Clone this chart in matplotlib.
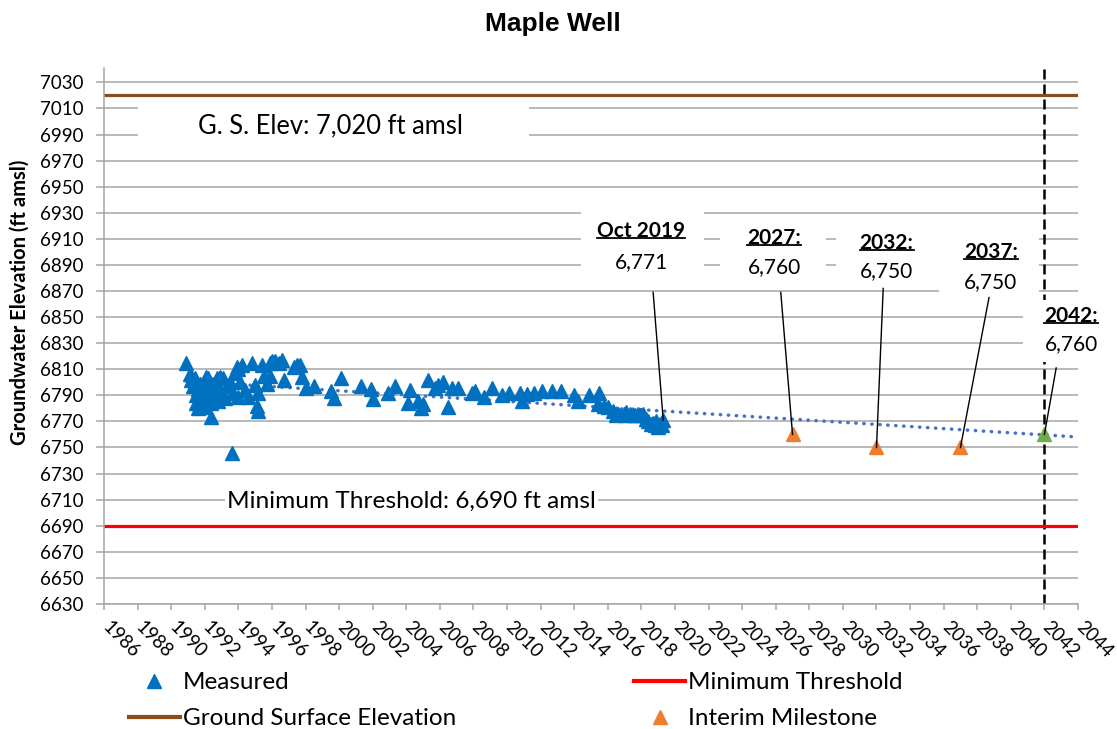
import matplotlib
matplotlib.use('Agg')
import matplotlib.pyplot as plt
import numpy as np
from matplotlib.lines import Line2D
from matplotlib.patches import Rectangle
from matplotlib.transforms import ScaledTranslation

plt.rcParams['font.family'] = ['Lato', 'DejaVu Sans']

# measured groundwater elevations (decimal year, ft amsl)
meas_year = [1990.9, 1991.1, 1991.2, 1991.3, 1991.4, 1991.4, 1991.5, 1991.5, 1991.6, 1991.6,
             1991.7, 1991.8, 1991.9, 1992.0, 1992.0, 1992.1, 1992.2, 1992.2, 1992.3, 1992.4,
             1992.4, 1992.5, 1992.6, 1992.7, 1992.8, 1992.9, 1992.9, 1993.0, 1993.1, 1993.2,
             1993.4, 1993.5, 1993.6, 1993.7, 1993.8, 1993.9, 1994.0, 1994.0, 1994.1, 1994.2,
             1994.4, 1994.6, 1994.8, 1995.0, 1995.1, 1995.2, 1995.2,
             1995.4, 1995.5, 1995.7, 1995.9, 1995.9, 1996.0, 1996.2, 1996.4, 1996.6,
             1996.7, 1997.3, 1997.5, 1997.7, 1997.8, 1998.0, 1998.5, 1999.5,
             1999.7, 2000.1, 2001.3, 2001.9, 2002.0, 2002.9, 2003.3, 2004.1, 2004.2, 2004.7,
             2004.9, 2005.0, 2005.3, 2005.7, 2005.9, 2006.2, 2006.5, 2006.7, 2007.1, 2007.9,
             2008.1, 2008.6, 2009.1, 2009.7, 2010.1, 2010.8, 2010.9, 2011.2, 2011.6, 2012.1,
             2012.7, 2013.2, 2014.0, 2014.2, 2014.9, 2015.4, 2015.5, 2015.8, 2016.0, 2016.3,
             2016.5, 2016.6, 2016.8, 2017.0, 2017.1, 2017.3, 2017.5, 2017.6, 2017.8, 2018.0,
             2018.1, 2018.3, 2018.4, 2018.6, 2018.7, 2018.8, 2018.9, 2019.0, 2019.1, 2019.2,
             2019.3]
meas_elev = [6815, 6806, 6802, 6797, 6803, 6800, 6790, 6784, 6780, 6795,
             6799, 6786, 6791, 6781, 6797, 6804, 6788, 6803, 6793, 6773,
             6784, 6799, 6790, 6803, 6786, 6795, 6804, 6792, 6803, 6788,
             6797, 6800, 6746, 6792, 6807, 6812, 6789, 6810, 6800, 6813,
             6794, 6789, 6815, 6798, 6782, 6778, 6792,
             6813, 6805, 6799, 6815, 6805, 6816, 6816, 6815, 6817,
             6802, 6812, 6813, 6813, 6804, 6796, 6797, 6793,
             6788, 6803, 6797, 6795, 6787, 6792, 6797, 6784, 6794, 6786,
             6780, 6783, 6802, 6796, 6798, 6800, 6781, 6796, 6796, 6792,
             6793, 6789, 6796, 6790, 6792, 6792, 6786, 6791, 6792, 6793,
             6793, 6793, 6790, 6786, 6790, 6783, 6792, 6782, 6781, 6778,
             6775, 6776, 6776, 6775, 6777, 6776, 6775, 6775, 6776, 6775,
             6776, 6772, 6770, 6768, 6769, 6767, 6770, 6766, 6768, 6767,
             6771]

# interim milestones and measurable objective
milestone_year = [2027, 2032, 2037]
milestone_elev = [6760, 6750, 6750]
objective_year = 2042
objective_elev = 6760

gse_elev = 7020
min_threshold = 6690

blue = '#0070C0'
orange = '#ED7D31'
green = '#70AD47'
brown = '#8E4B1C'
grid_c = '#A6A6A6'

fig = plt.figure(figsize=(11.17, 7.29), dpi=100)
ax = fig.add_axes([0.0931, 0.1715, 0.872, 0.7352])

ax.set_xlim(1986, 2044)
ax.set_ylim(6630, 7041)
ax.set_xticks(np.arange(1986, 2045, 2))
ax.set_yticks(np.arange(6630, 7031, 20))
ax.set_axisbelow(True)
ax.grid(axis='y', color=grid_c, lw=1.1)
for s in ['top', 'right']:
    ax.spines[s].set_visible(False)
for s in ['left', 'bottom']:
    ax.spines[s].set_color(grid_c)
    ax.spines[s].set_linewidth(1.1)
ax.tick_params(axis='y', direction='out', length=5.5, width=1.1, color=grid_c,
               labelsize=13.5, pad=9)
ax.tick_params(axis='x', direction='out', length=4.3, width=1.1, color=grid_c,
               labelsize=13.5, pad=6)
for lab in ax.get_xticklabels():
    lab.set_rotation(-45)
    lab.set_ha('left')
    lab.set_va('top')
    lab.set_transform(lab.get_transform() + ScaledTranslation(-5/100, 0, fig.dpi_scale_trans))

ax.set_ylabel('Groundwater Elevation (ft amsl)', fontsize=14.5, fontweight='bold')
ax.yaxis.set_label_coords(-0.076, 0.563)

fig.text(0.495, 0.967, 'Maple Well', ha='center', va='center', fontsize=19,
         fontweight='bold', family='Liberation Sans')

# reference levels
ax.axhline(gse_elev, color=brown, lw=2.3, zorder=2)
ax.axhline(min_threshold, color='#FF0000', lw=2.3, zorder=2)
ax.axvline(objective_year, color='black', lw=1.8, ls=(0, (4, 2)), zorder=1.2)

# white label backgrounds (x0, x1, y0, y1)
boxes = [(1988.0, 2011.3, 6978, 7016), (1993.2, 2015.4, 6699, 6719.6),
         (2014.4, 2021.7, 6880.6, 6935.7), (2022.7, 2029.0, 6874.4, 6925.8),
         (2029.6, 2035.7, 6872.1, 6925.8), (2035.7, 2041.7, 6859, 6924),
         (2040.7, 2044.8, 6815.5, 6863)]
for x0, x1, y0, y1 in boxes:
    ax.add_patch(Rectangle((x0, y0), x1 - x0, y1 - y0, facecolor='white',
                           edgecolor='none', zorder=1.5, clip_on=False))

ax.text(1999.5, 6997, 'G. S. Elev: 7,020 ft amsl', ha='center', va='center', fontsize=18.4, zorder=5)
ax.text(2004.3, 6709, 'Minimum Threshold: 6,690 ft amsl', ha='center', va='center', fontsize=17.6, zorder=5)

# trend of measured levels projected to 2044
coef = np.polyfit(meas_year, meas_elev, 1)
tx = np.array([min(meas_year), 2044])
ax.plot(tx, np.polyval(coef, tx), color='#4472C4', lw=2.5, ls=(0, (0.1, 2.2)),
        dash_capstyle='round', zorder=2.5)

ax.plot(meas_year, meas_elev, ls='none', marker='^', ms=10, color=blue, zorder=3)
ax.plot(milestone_year, milestone_elev, ls='none', marker='^', ms=10, color=orange, zorder=3)
ax.plot([objective_year], [objective_elev], ls='none', marker='^', ms=10, color=green, zorder=3)

# callouts: title, value, text x, title y, value y, leader top, leader end
callouts = [('Oct 2019', '6,771', 2018.0, 6916, 6892, (2018.7, 6869), (meas_year[-1], meas_elev[-1])),
            ('2027:', '6,760', 2025.9, 6911, 6888, (2026.3, 6869), (2027, 6760)),
            ('2032:', '6,750', 2032.6, 6907, 6885, (2032.4, 6872), (2032, 6750)),
            ('2037:', '6,750', 2038.8, 6900, 6877, (2038.7, 6865), (2037, 6750)),
            ('2042:', '6,760', 2043.6, 6851, 6829, (2042.7, 6811), (2042, 6760))]
heads = []
for head, val, x, yh, yv, top, end in callouts:
    heads.append(ax.text(x, yh, head, ha='center', va='center', fontsize=15,
                         fontweight='bold', zorder=5))
    ax.text(x, yv, val, ha='center', va='center', fontsize=15, zorder=5)
    ax.plot([top[0], end[0]], [top[1], end[1]], color='black', lw=1, zorder=4)

handles = [Line2D([], [], ls='none', marker='^', ms=10, color=blue),
           Line2D([], [], color=brown, lw=3),
           Line2D([], [], color='#FF0000', lw=3),
           Line2D([], [], ls='none', marker='^', ms=10, color=orange)]
labels = ['Measured', 'Ground Surface Elevation', 'Minimum Threshold', 'Interim Milestone']
fig.legend(handles, labels, ncol=2, loc='upper left', bbox_to_anchor=(0.0955, 0.108),
           frameon=False, fontsize=17.5, handlelength=2.1, handletextpad=0.12,
           columnspacing=7.35, labelspacing=0.62)

# underline the bold callout headings
fig.canvas.draw()
r = fig.canvas.get_renderer()
for t in heads:
    bb = t.get_window_extent(r)
    y = bb.y0 + 3
    fig.add_artist(Line2D([bb.x0, bb.x1], [y, y], transform=None, color='black', lw=1.3))

fig.savefig('out.png', dpi=100)
